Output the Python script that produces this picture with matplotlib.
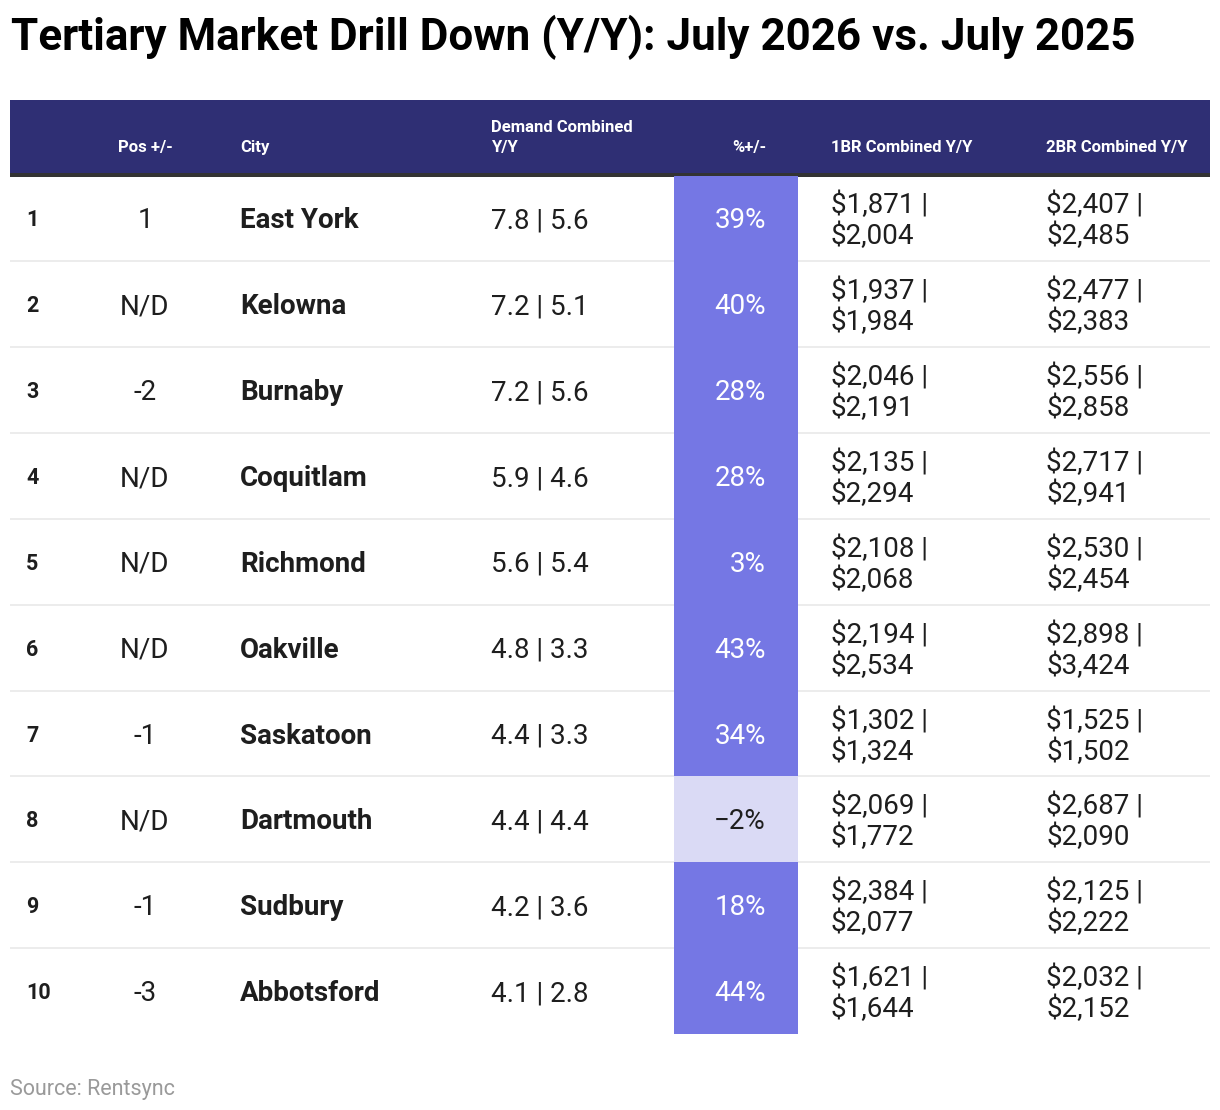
import matplotlib.pyplot as plt
from matplotlib.patches import Rectangle

# ── data ─────────────────────────────────────────────────────────────────────
ranks = [1, 2, 3, 4, 5, 6, 7, 8, 9, 10]
pos_change = ["1", "N/D", "-2", "N/D", "N/D", "N/D", "-1", "N/D", "-1", "-3"]
cities = ["East York", "Kelowna", "Burnaby", "Coquitlam", "Richmond",
          "Oakville", "Saskatoon", "Dartmouth", "Sudbury", "Abbotsford"]
demand_now = [7.8, 7.2, 7.2, 5.9, 5.6, 4.8, 4.4, 4.4, 4.2, 4.1]
demand_prev = [5.6, 5.1, 5.6, 4.6, 5.4, 3.3, 3.3, 4.4, 3.6, 2.8]
pct_change = [39, 40, 28, 28, 3, 43, 34, -2, 18, 44]
br1_now = [1871, 1937, 2046, 2135, 2108, 2194, 1302, 2069, 2384, 1621]
br1_prev = [2004, 1984, 2191, 2294, 2068, 2534, 1324, 1772, 2077, 1644]
br2_now = [2407, 2477, 2556, 2717, 2530, 2898, 1525, 2687, 2125, 2032]
br2_prev = [2485, 2383, 2858, 2941, 2454, 3424, 1502, 2090, 2222, 2152]

TITLE = "Tertiary Market Drill Down (Y/Y): July 2026 vs. July 2025"
SOURCE = "Source: Rentsync"

# ── style ────────────────────────────────────────────────────────────────────
plt.rcParams["font.family"] = ["Roboto", "DejaVu Sans"]
NAVY = "#2f2f74"
PCT_POS = "#7577e4"
PCT_NEG = "#dadaf5"
TXT = "#1e1e1e"
LINE = "#ececec"

W, H = 1220, 1110
LEFT, RIGHT = 10, 1210
HEAD_TOP, HEAD_BOT = 100, 173
ROW_TOP, ROW_H = 175.5, 85.85
PCT_X0, PCT_X1 = 674, 798

fig = plt.figure(figsize=(W / 100, H / 100), dpi=100)
ax = fig.add_axes([0, 0, 1, 1])
ax.set_xlim(0, W)
ax.set_ylim(H, 0)
ax.axis("off")

# title
ax.text(11, 50, TITLE, fontsize=31.7, fontweight="bold", color="#000000",
        va="baseline", ha="left")

# header band + bottom border
ax.add_patch(Rectangle((LEFT, HEAD_TOP), RIGHT - LEFT, HEAD_BOT - HEAD_TOP,
                       color=NAVY, lw=0))
ax.add_patch(Rectangle((LEFT, HEAD_BOT), RIGHT - LEFT, 3.5,
                       color="#333333", lw=0))

hkw = dict(fontsize=12, fontweight="bold", color="white", va="baseline")
ax.text(145, 152, "Pos +/-", ha="center", **hkw)
ax.text(240, 152, "City", ha="left", **hkw)
ax.text(491, 132, "Demand Combined", ha="left", **hkw)
ax.text(491, 152, "Y/Y", ha="left", **hkw)
ax.text(766, 152, "%+/-", ha="right", **hkw)
ax.text(831, 152, "1BR Combined Y/Y", ha="left", **hkw)
ax.text(1046, 152, "2BR Combined Y/Y", ha="left", **hkw)

# rows
for i in range(len(ranks)):
    top = ROW_TOP + i * ROW_H
    base = top + 53
    pct = pct_change[i]

    # %+/- cell shaded by sign
    ax.add_patch(Rectangle((PCT_X0, top), PCT_X1 - PCT_X0, ROW_H,
                           color=PCT_POS if pct >= 0 else PCT_NEG, lw=0,
                           zorder=1))
    # separator
    if i < len(ranks) - 1:
        ax.add_patch(Rectangle((LEFT, top + ROW_H - 1), RIGHT - LEFT, 2,
                               color=LINE, lw=0, zorder=0))

    ax.text(26, base - 2, str(ranks[i]), fontsize=15.5, fontweight="bold",
            color=TXT, ha="left", va="baseline")
    ax.text(145, base, pos_change[i], fontsize=20, color=TXT,
            ha="center", va="baseline")
    ax.text(240, base, cities[i], fontsize=20, fontweight="bold", color=TXT,
            ha="left", va="baseline")
    ax.text(491, base, f"{demand_now[i]:.1f} | {demand_prev[i]:.1f}",
            fontsize=20, color=TXT, ha="left", va="baseline")
    pct_txt = f"{pct}%" if pct >= 0 else f"\u2212{abs(pct)}%"
    ax.text(766, base, pct_txt, fontsize=20,
            color="white" if pct >= 0 else TXT,
            ha="right", va="baseline", zorder=2)

    for x, now, prev in ((831, br1_now[i], br1_prev[i]),
                         (1046, br2_now[i], br2_prev[i])):
        ax.text(x, top + 38, f"${now:,} |", fontsize=20, color=TXT,
                ha="left", va="baseline")
        ax.text(x, top + 69, f"${prev:,}", fontsize=20, color=TXT,
                ha="left", va="baseline")

# source
ax.text(10, 1095, SOURCE, fontsize=15.5, color="#9a9a9a",
        ha="left", va="baseline")

fig.savefig("out.png", dpi=100)
